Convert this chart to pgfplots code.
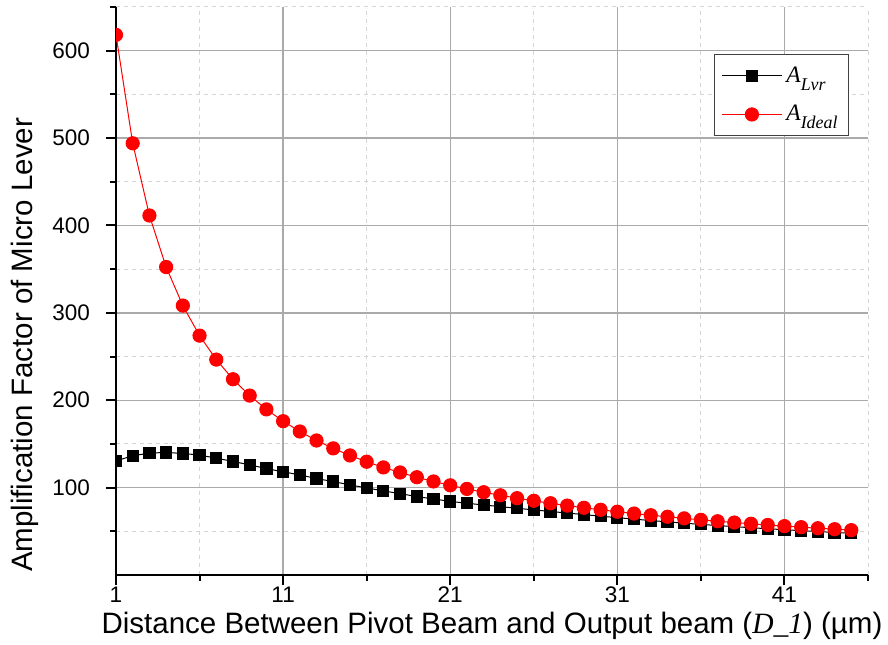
\documentclass[border=0pt]{standalone}
\usepackage{fontspec}
\setmainfont{Liberation Sans}
\newfontfamily\tnr{Liberation Serif}
\usepackage{pgfplots}
\pgfplotsset{compat=1.18}
\usepackage{pgfplotstable}
\definecolor{majgrid}{RGB}{170,170,170}
\definecolor{mingrid}{RGB}{212,212,212}
\pgfplotstableread{
x y
1 130.6
2 136.4
3 139.5
4 140.2
5 139.1
6 137.2
7 133.7
8 129.9
9 126.0
10 121.8
11 118.0
12 114.6
13 110.3
14 106.9
15 103.1
16 99.6
17 96.2
18 93.1
19 89.7
20 87.0
21 84.2
22 82.1
23 80.1
24 78.2
25 76.3
26 74.5
27 72.7
28 70.9
29 69.1
30 67.3
31 65.6
32 63.9
33 62.3
34 60.8
35 59.3
36 57.9
37 56.6
38 55.3
39 54.1
40 52.9
41 51.8
42 50.7
43 49.7
44 48.7
45 47.7
}\lvr
\pgfplotstableread{
x y
1 618.1
2 494.0
3 411.4
4 352.4
5 308.3
6 273.9
7 246.5
8 224.0
9 205.3
10 189.5
11 176.0
12 164.2
13 153.9
14 144.9
15 136.8
16 129.6
17 123.1
18 117.3
19 111.9
20 107.0
21 102.6
22 98.5
23 94.7
24 91.2
25 87.9
26 84.9
27 82.1
28 79.4
29 76.9
30 74.6
31 72.4
32 70.3
33 68.4
34 66.6
35 64.8
36 63.1
37 61.5
38 60.0
39 58.6
40 57.2
41 55.9
42 54.7
43 53.5
44 52.4
45 51.3
}\ideal
\begin{document}
\begin{tikzpicture}
\begin{axis}[name=ax, scale only axis, width=376bp, height=284bp,
 xmin=1, xmax=46, ymin=0, ymax=650,
 xtick={1,11,21,31,41}, minor xtick={6,16,26,36,46},
 ytick={100,200,...,600}, minor ytick={50,150,...,650},
 axis x line*=bottom, axis y line*=left,
 axis line style={line width=1.2bp, -},
 tick align=outside, major tick length=5bp, minor tick length=3bp,
 every tick/.style={black, line width=1bp},
 grid=both,
 major grid style={majgrid, line width=0.7bp},
 minor grid style={mingrid, line width=0.5bp, dash pattern=on 2bp off 2bp},
 /pgf/number format/assume math mode=true,
 ticklabel style={font=\fontsize{11.3}{13}\selectfont},
 yticklabel style={xshift=-4.5bp},
 xticklabel style={yshift=2.5bp},
 xlabel={Distance Between Pivot Beam and Output beam ({\tnr\itshape D\_1}) (µm)},
 ylabel={Amplification Factor of Micro Lever},
 label style={font=\fontsize{14.8}{17}\selectfont},
 xlabel style={yshift=2.5bp},
 ylabel style={at={(ticklabel cs:0.405)}},
 clip marker paths=true,
 legend cell align=left,
 legend style={at={(0.975,0.917)}, anchor=north east, draw=black!75, line width=0.6bp,
   fill=white, inner xsep=3.5bp, inner ysep=4bp, row sep=6bp},
 legend image code/.code={\draw[mark repeat=2,mark phase=2] plot coordinates {(0bp,0bp) (15bp,0bp) (30bp,0bp)};},
]
\addplot[black, line width=0.5bp, mark=square*, mark size=2.8bp, mark options={solid, fill=black}] table {\lvr};
\addlegendentry{{\tnr\itshape\fontsize{11.8}{13}\selectfont A\raisebox{-4bp}{\fontsize{9}{10}\selectfont Lvr}}}
\addplot[red, line width=0.5bp, mark=*, mark size=3.3bp, mark options={solid, fill=red, draw=red}] table {\ideal};
\addlegendentry{{\tnr\itshape\fontsize{11.8}{13}\selectfont A\raisebox{-4bp}{\fontsize{9}{10}\selectfont Ideal}}}
\end{axis}
\pgfresetboundingbox
\path[use as bounding box] ([shift={(-58bp,-35bp)}]ax.south west) rectangle ([shift={(10bp,3.5bp)}]ax.north east);
\end{tikzpicture}
\end{document}
